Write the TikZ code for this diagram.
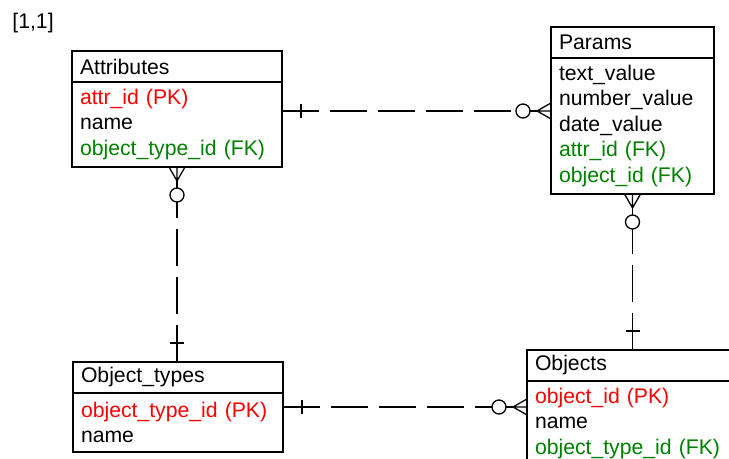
\documentclass[tikz,border=0pt]{standalone}
\usepackage{fontspec}
\setmainfont{Liberation Sans}
\usetikzlibrary{calc}
\definecolor{pkred}{RGB}{255,0,0}
\definecolor{fkgreen}{RGB}{0,128,0}
\tikzset{
  tblhead/.style={draw, line width=1pt, anchor=north west, outer sep=0pt,
    inner xsep=4pt, inner ysep=0pt, align=left, minimum height=15.5pt},
  tblbody/.style={draw, line width=1pt, anchor=north west, outer sep=0pt,
    inner xsep=4pt, inner ysep=0pt, align=left},
  rel/.style={line width=0.65pt},
  reldash/.style={rel, dash pattern=on 18.5pt off 5.5pt},
}
\newcommand{\pk}[1]{\textcolor{pkred}{#1}}
\newcommand{\fk}[1]{\textcolor{fkgreen}{#1}}
% #1 = "one" end, #2 = "many" end
\newcommand{\erlink}[2]{%
  \draw[reldash] (#1) -- ($(#2)!17.5pt!(#1)$);
  \draw[rel] ($(#1)!9.5pt!(#2)!3.5pt!90:(#2)$) -- ($(#1)!9.5pt!(#2)!3.5pt!-90:(#2)$);
  \draw[rel] ($(#2)!14pt!(#1)$) circle[radius=3.5pt];
  \draw[rel] ($(#2)!10.5pt!(#1)$) -- ($(#2)!7pt!(#1)$);
  \draw[rel] ($(#2)!7pt!(#1)$) -- (#2)
    ($(#2)!7pt!(#1)$) -- ($(#2)!4pt!90:(#1)$)
    ($(#2)!7pt!(#1)$) -- ($(#2)!4pt!-90:(#1)$);
}
\begin{document}
\begin{tikzpicture}[x=0.5pt, y=-0.5pt, font=\fontsize{10.6pt}{12.75pt}\selectfont]
  \clip (0,0) rectangle (729,459);
  \node[anchor=west, inner sep=0pt] (scale) at (12,23) {[1,1]};

  % tables
  \node[tblhead, text width=97pt] (attrh) at (72,51) {Attributes};
  \node[tblbody, text width=97pt, minimum height=42.5pt] (attrb) at (attrh.south west)
    {\pk{attr\_id (PK)}\\ name\\ \fk{object\_type\_id (FK)}};

  \node[tblhead, text width=73.5pt] (prmh) at (551,27) {Params};
  \node[tblbody, text width=73.5pt, minimum height=68pt] (prmb) at (prmh.south west)
    {text\_value\\ number\_value\\ date\_value\\ \fk{attr\_id (FK)}\\
     \fk{object\_id (FK)}};

  \node[tblhead, text width=97pt] (otyh) at (73,362) {Object\_types};
  \node[tblbody, text width=97pt, minimum height=29.5pt] (otyb) at (otyh.south west)
    {\pk{object\_type\_id (PK)}\\ name};

  \node[tblhead, text width=97pt] (objh) at (527,350) {Objects};
  \node[tblbody, text width=97pt, minimum height=42.5pt] (objb) at (objh.south west)
    {\pk{object\_id (PK)}\\ name\\ \fk{object\_type\_id (FK)}};

  % relations
  \coordinate (ap1) at (attrb.east |- 0,111);
  \coordinate (ap2) at (prmb.west |- 0,111);
  \coordinate (ta1) at (attrb.south |- otyh.north);
  \coordinate (ta2) at (attrb.south);
  \coordinate (to1) at (otyb.east |- 0,407);
  \coordinate (to2) at (objb.west |- 0,407);
  \coordinate (op1) at (prmb.south |- objh.north);
  \coordinate (op2) at (prmb.south);
  \erlink{ap1}{ap2}
  \erlink{ta1}{ta2}
  \erlink{to1}{to2}
  \erlink{op1}{op2}
\end{tikzpicture}
\end{document}
